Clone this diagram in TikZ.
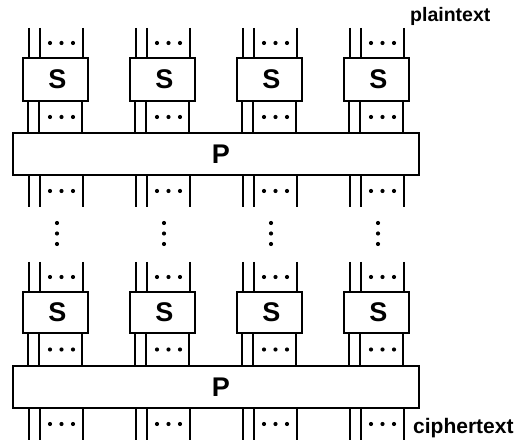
\documentclass[tikz,border=0pt]{standalone}
\usepackage{fontspec}
\setmainfont{Liberation Sans}
\begin{document}
\begin{tikzpicture}[x=1pt,y=-1pt,
  wire/.style={line width=1.8pt},
  sbox/.style={draw, line width=1.8pt, minimum width=65pt, inner sep=0pt,
    font=\fontsize{27}{27}\selectfont\bfseries},
  pbox/.style={draw, line width=1.8pt, minimum width=406pt, minimum height=42pt,
    inner sep=0pt, font=\fontsize{27}{27}\selectfont\bfseries},
  lbl/.style={inner sep=0pt, anchor=base west}
]
\useasboundingbox (0,0) rectangle (517,443);

% permutation layers
\node[pbox] (p1) at (216,154) {\hspace*{10pt}P};
\node[pbox] (p2) at (216,387) {\hspace*{10pt}P};

\foreach \i in {0,...,3} {
  \pgfmathsetmacro{\xo}{23+107*\i}
  % substitution boxes
  \node[sbox, minimum height=43pt] (s1-\i) at (\xo+32.5,79.5) {\hspace*{4pt}S};
  \node[sbox, minimum height=41pt] (s2-\i) at (\xo+32.5,312.5) {\hspace*{4pt}S};
  \foreach \k/\d in {a/6,b/17,c/60} {
    \coordinate (in-\i-\k)  at (\xo+\d,28);
    \coordinate (mo-\i-\k)  at (\xo+\d,207);
    \coordinate (mi-\i-\k)  at (\xo+\d,262);
    \coordinate (out-\i-\k) at (\xo+\d,440);
    % round 1
    \draw[wire] (in-\i-\k) -- (in-\i-\k |- s1-\i.north);
    \draw[wire] ([xshift=\d pt]s1-\i.south west) -- ([xshift=\d pt]s1-\i.south west |- p1.north);
    \draw[wire] (mo-\i-\k |- p1.south) -- (mo-\i-\k);
    % last round
    \draw[wire] (mi-\i-\k) -- (mi-\i-\k |- s2-\i.north);
    \draw[wire] ([xshift=\d pt]s2-\i.south west) -- ([xshift=\d pt]s2-\i.south west |- p2.north);
    \draw[wire] (out-\i-\k |- p2.south) -- (out-\i-\k);
  }
  % horizontal ellipses between the wires
  \foreach \y in {43,117,191,277,349.5,424} {
    \foreach \dx in {27,38.5,50} {
      \fill (\xo+\dx,\y) circle (2.1);
    }
  }
  % vertical ellipsis for the omitted rounds
  \foreach \y in {223,233.5,244} {
    \fill (\xo+34,\y) circle (2.1);
  }
}

\node[lbl, font=\fontsize{19.5}{20}\selectfont\bfseries] (pt) at (410,22) {plaintext};
\node[lbl, font=\fontsize{21}{21}\selectfont\bfseries] (ct) at (413,433.3) {ciphertext};
\end{tikzpicture}
\end{document}
